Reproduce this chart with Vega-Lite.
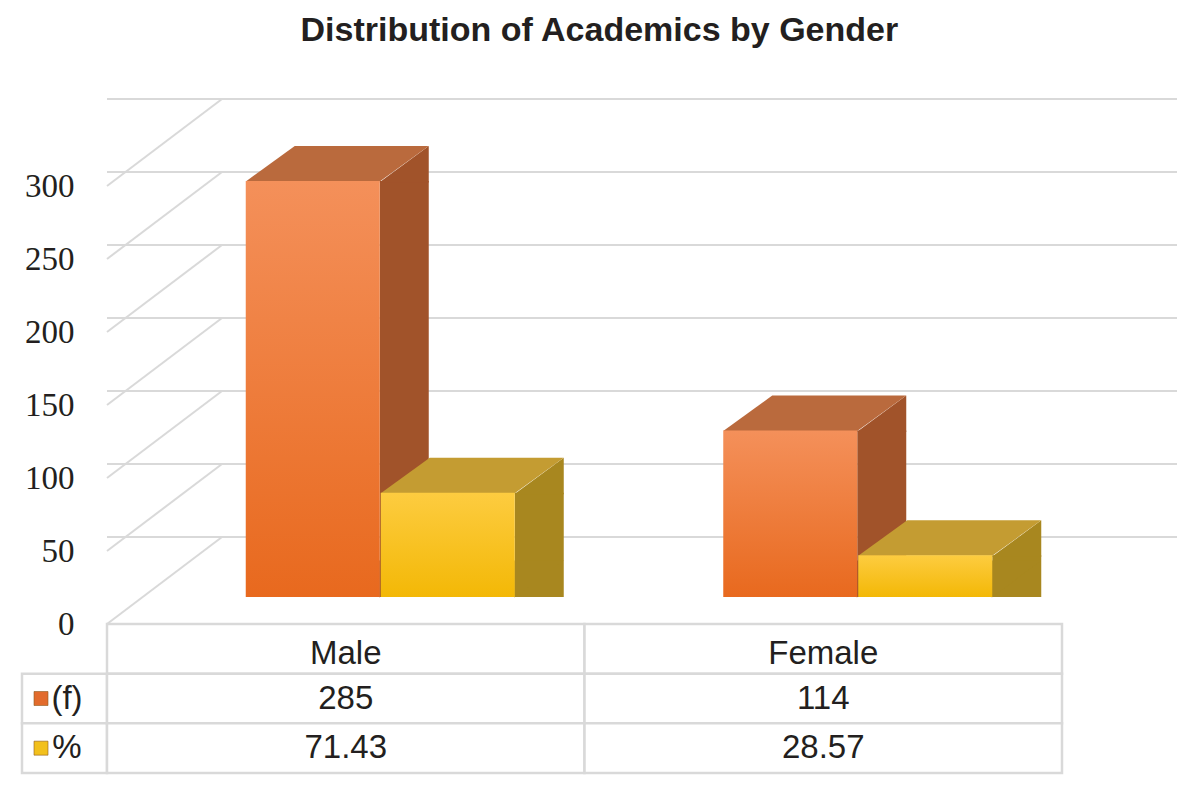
{
  "$schema": "https://vega.github.io/schema/vega-lite/v6.json",
  "description": "3D-style grouped bars of academics by gender with a data table underneath.",
  "background": "white",
  "padding": {"left": 20, "top": 14, "right": 10, "bottom": 10},
  "title": {
    "text": "Distribution of Academics by Gender",
    "font": "Liberation Sans",
    "fontSize": 34,
    "fontWeight": "bold",
    "color": "#231F20",
    "anchor": "middle",
    "offset": 50
  },
  "datasets": {
    "academics": [
      {"gender": "Male", "series": "(f)", "value": 285},
      {"gender": "Male", "series": "%", "value": 71.43},
      {"gender": "Female", "series": "(f)", "value": 114},
      {"gender": "Female", "series": "%", "value": 28.57}
    ],
    "ticks": [
      {"v": 0}, {"v": 50}, {"v": 100}, {"v": 150}, {"v": 200}, {"v": 250}, {"v": 300}
    ]
  },
  "bounds": "flush",
  "spacing": 0,
  "vconcat": [
    {
      "width": 955,
      "height": 438,
      "layer": [
        {
          "data": {"name": "ticks"},
          "mark": {"type": "rule", "color": "#D9D9D9", "strokeWidth": 2, "xOffset": 115, "x2Offset": 115, "yOffset": -87},
          "encoding": {
            "y": {
              "field": "v",
              "type": "quantitative",
              "scale": {"domain": [0, 300], "nice": false},
              "axis": {
                "values": [0, 50, 100, 150, 200, 250, 300],
                "title": null,
                "grid": false,
                "domain": false,
                "ticks": false,
                "tickSize": 0,
                "labelPadding": 33,
                "labelFont": "Liberation Serif",
                "labelFontSize": 33,
                "labelColor": "#231F20"
              }
            }
          }
        },
        {
          "data": {"name": "ticks"},
          "mark": {"type": "rule", "color": "#D9D9D9", "strokeWidth": 2, "y2Offset": -87},
          "encoding": {
            "x": {"value": 0},
            "x2": {"value": 115},
            "y": {"field": "v", "type": "quantitative"},
            "y2": {"field": "v"}
          }
        },
        {
          "data": {"name": "academics"},
          "encoding": {
            "x": {"field": "gender", "type": "nominal", "sort": ["Male", "Female"], "scale": {"paddingInner": 0, "paddingOuter": 0}, "axis": null},
            "y": {
              "field": "value",
              "type": "quantitative",
              "axis": {
                "values": [0, 50, 100, 150, 200, 250, 300],
                "title": null,
                "grid": false,
                "domain": false,
                "ticks": false,
                "tickSize": 0,
                "labelPadding": 33,
                "labelFont": "Liberation Serif",
                "labelFontSize": 33,
                "labelColor": "#231F20"
              }
            }
          },
          "layer": [
            {
              "transform": [{"filter": "datum.series === '(f)'"}],
              "layer": [
                {"mark": {"type": "bar", "width": 49, "color": "#A1532A", "xOffset": 58.5, "yOffset": -27, "y2Offset": -62}},
                {"mark": {"type": "point", "shape": "M 66.5 1.5 L 116 -35 L 116 1.5 Z", "size": 4, "filled": true, "opacity": 1, "strokeWidth": 0, "color": "#A1532A", "xOffset": -33, "yOffset": -27}},
                {"mark": {"type": "point", "shape": "M 66.5 0.5 L 66.5 -36.5 L 116 -36.5 Z", "size": 4, "filled": true, "opacity": 1, "strokeWidth": 0, "color": "#A1532A", "xOffset": -33, "yOffset": -27}, "encoding": {"y": {"datum": 0, "type": "quantitative"}}},
                {"mark": {"type": "point", "shape": "M -67 0.5 L 67 0.5 L 116 -35 L -18 -35 Z", "size": 4, "filled": true, "opacity": 1, "strokeWidth": 0, "color": "#BA6A3D", "xOffset": -33, "yOffset": -27}},
                {
                  "mark": {
                    "type": "bar",
                    "width": 134,
                    "xOffset": -33,
                    "yOffset": -27,
                    "y2Offset": -27,
                    "color": {"gradient": "linear", "x1": 0, "y1": 0, "x2": 0, "y2": 1, "stops": [{"offset": 0, "color": "#F4905A"}, {"offset": 1, "color": "#E8691E"}]}
                  }
                }
              ]
            },
            {
              "transform": [{"filter": "datum.series === '%'"}],
              "layer": [
                {"mark": {"type": "bar", "width": 49, "color": "#A8871F", "xOffset": 193.5, "yOffset": -27, "y2Offset": -62}},
                {"mark": {"type": "point", "shape": "M 66.5 1.5 L 116 -35 L 116 1.5 Z", "size": 4, "filled": true, "opacity": 1, "strokeWidth": 0, "color": "#A8871F", "xOffset": 102, "yOffset": -27}},
                {"mark": {"type": "point", "shape": "M 66.5 0.5 L 66.5 -36.5 L 116 -36.5 Z", "size": 4, "filled": true, "opacity": 1, "strokeWidth": 0, "color": "#A8871F", "xOffset": 102, "yOffset": -27}, "encoding": {"y": {"datum": 0, "type": "quantitative"}}},
                {"mark": {"type": "point", "shape": "M -67 0.5 L 67 0.5 L 116 -35 L -18 -35 Z", "size": 4, "filled": true, "opacity": 1, "strokeWidth": 0, "color": "#C49C32", "xOffset": 102, "yOffset": -27}},
                {
                  "mark": {
                    "type": "bar",
                    "width": 134,
                    "xOffset": 102,
                    "yOffset": -27,
                    "y2Offset": -27,
                    "color": {"gradient": "linear", "x1": 0, "y1": 0, "x2": 0, "y2": 1, "stops": [{"offset": 0, "color": "#FDCC40"}, {"offset": 1, "color": "#F3B806"}]}
                  }
                }
              ]
            }
          ]
        }
      ]
    },
    {
      "width": 955,
      "height": 149,
      "data": {"name": "academics"},
      "resolve": {"scale": {"x": "independent"}},
      "layer": [
        {
          "transform": [{"aggregate": [{"op": "count", "as": "n"}], "groupby": ["series"]}],
          "mark": {"type": "rect", "fill": "white", "stroke": "#D9D9D9", "strokeWidth": 2.5},
          "encoding": {
            "x": {"datum": "legend", "type": "nominal", "scale": {"domain": ["legend"], "range": [-85, 0], "paddingInner": 0, "paddingOuter": 0}, "axis": null},
            "y": {"field": "series", "type": "nominal", "scale": {"domain": ["head", "(f)", "%"], "paddingInner": 0, "paddingOuter": 0}, "axis": null}
          }
        },
        {
          "transform": [{"aggregate": [{"op": "count", "as": "n"}], "groupby": ["series"]}],
          "mark": {"type": "point", "shape": "square", "filled": true, "size": 196, "opacity": 1, "stroke": "#8E5A1E", "strokeWidth": 0.6},
          "encoding": {
            "x": {"datum": "swatch", "type": "nominal", "scale": {"domain": ["swatch", "label"], "range": [-79, -27], "paddingInner": 0, "paddingOuter": 0}, "axis": null},
            "y": {"field": "series", "type": "nominal"},
            "color": {"condition": {"test": "datum.series === '(f)'", "value": "#E26B2C"}, "value": "#F2C01C"}
          }
        },
        {
          "transform": [{"aggregate": [{"op": "count", "as": "n"}], "groupby": ["series"]}],
          "mark": {"type": "text", "font": "Liberation Sans", "fontSize": 33, "color": "#231F20"},
          "encoding": {
            "x": {"datum": "label", "type": "nominal", "scale": {"domain": ["swatch", "label"], "range": [-79, -27], "paddingInner": 0, "paddingOuter": 0}, "axis": null},
            "y": {"field": "series", "type": "nominal"},
            "text": {"field": "series"}
          }
        },
        {
          "transform": [{"aggregate": [{"op": "count", "as": "n"}], "groupby": ["gender"]}],
          "mark": {"type": "rect", "fill": "white", "stroke": "#D9D9D9", "strokeWidth": 2.5},
          "encoding": {
            "x": {"field": "gender", "type": "nominal", "sort": ["Male", "Female"], "scale": {"paddingInner": 0, "paddingOuter": 0}, "axis": null},
            "y": {"datum": "head", "type": "nominal"}
          }
        },
        {
          "mark": {"type": "rect", "fill": "white", "stroke": "#D9D9D9", "strokeWidth": 2.5},
          "encoding": {
            "x": {"field": "gender", "type": "nominal", "sort": ["Male", "Female"], "scale": {"paddingInner": 0, "paddingOuter": 0}, "axis": null},
            "y": {"field": "series", "type": "nominal"}
          }
        },
        {
          "transform": [{"aggregate": [{"op": "count", "as": "n"}], "groupby": ["gender"]}],
          "mark": {"type": "text", "font": "Liberation Sans", "fontSize": 33, "color": "#231F20", "dy": 5},
          "encoding": {
            "x": {"field": "gender", "type": "nominal", "sort": ["Male", "Female"], "scale": {"paddingInner": 0, "paddingOuter": 0}, "axis": null},
            "y": {"datum": "head", "type": "nominal"},
            "text": {"field": "gender"}
          }
        },
        {
          "mark": {"type": "text", "font": "Liberation Sans", "fontSize": 33, "color": "#231F20"},
          "encoding": {
            "x": {"field": "gender", "type": "nominal", "sort": ["Male", "Female"], "scale": {"paddingInner": 0, "paddingOuter": 0}, "axis": null},
            "y": {"field": "series", "type": "nominal"},
            "text": {"field": "value", "type": "quantitative"}
          }
        }
      ]
    }
  ],
  "config": {
    "view": {"stroke": null},
    "font": "Liberation Sans"
  }
}
